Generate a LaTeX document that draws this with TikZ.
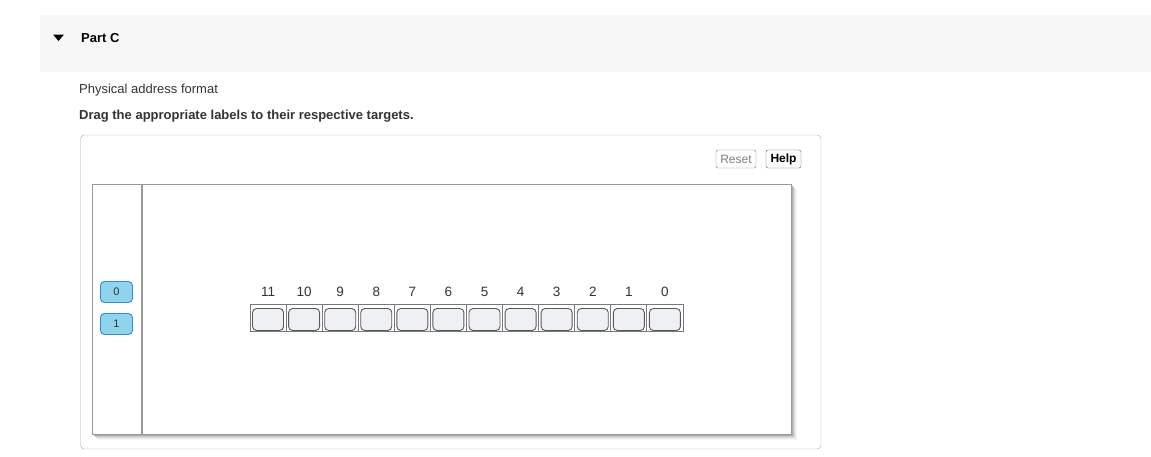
\documentclass[tikz,border=0pt]{standalone}
\usepackage{fontspec}
\setmainfont{Liberation Sans}
\definecolor{headbg}{HTML}{F7F7F7}
\definecolor{boxline}{HTML}{AAAAAA}
\definecolor{panelline}{HTML}{999999}
\definecolor{lblfill}{HTML}{8DD4EC}
\definecolor{lblline}{HTML}{3F86C8}
\definecolor{cellfill}{HTML}{EFF0F1}
\definecolor{cellline}{HTML}{55585E}
\definecolor{txt}{HTML}{333333}
\tikzset{
  plain/.style={anchor=west, inner sep=0pt, text=txt, font=\fontsize{13}{15}\selectfont},
  boldtxt/.style={plain, font=\bfseries\fontsize{13}{15}\selectfont},
  btn/.style={draw=cellline, rounded corners=2pt, inner sep=0pt, minimum height=18pt, font=\fontsize{12}{14}\selectfont},
  lbl/.style={draw=lblline, line width=0.9pt, fill=lblfill, rounded corners=4pt, inner sep=0pt, minimum width=32pt, minimum height=21pt, text=txt, font=\fontsize{11}{13}\selectfont},
  bitnum/.style={inner sep=0pt, text=txt, font=\fontsize{13.5}{15}\selectfont},
  cellout/.style={draw=cellline!80, line width=0.8pt, inner sep=0pt, minimum width=36.08pt, minimum height=27.5pt},
  cellin/.style={draw=cellline, fill=cellfill, rounded corners=4pt, line width=0.9pt, inner sep=0pt, minimum width=31pt, minimum height=22pt}
}
\begin{document}
\begin{tikzpicture}[x=1pt,y=-1pt]
\useasboundingbox (0,0) rectangle (1151,456);
\fill[white] (0,0) rectangle (1151,456);
% header band
\fill[headbg] (40,15) rectangle (1151,72);
\fill[black] (53,34.5) -- (64,34.5) -- (58.5,41) -- cycle;
\node[boldtxt, text=black] (part) at (81,38.5) {Part C};
\node[plain] (phys) at (79,90) {Physical address format};
\node[boldtxt] (drag) at (79,116) {Drag the appropriate labels to their respective targets.};
% outer box
\draw[boxline, rounded corners=4pt] (80.5,135) rectangle (821,449);
% buttons
\node[btn, draw=gray, minimum width=40pt, text=gray] (reset) at (736,159) {Reset};
\node[btn, minimum width=35pt, font=\bfseries\fontsize{12}{14}\selectfont, text=black] (help) at (783.5,159) {Help};
% panel shadow
\foreach \o/\c in {6/4, 5/8, 4/14, 3/22, 2/32, 1/42} {
  \fill[black!\c] (92+\o,184+\o) rectangle (791+\o,434+\o);
}
\fill[white] (92,184) rectangle (791,434);
\draw[panelline, line width=1pt] (92,184) rectangle (791,434);
\draw[panelline, line width=1.3pt] (142,184) -- (142,434);
% draggable labels
\node[lbl] (l0) at (116.5,292) {0};
\node[lbl] (l1) at (116.5,324) {1};
% bit cells
\foreach \j in {0,...,11} {
  \pgfmathtruncatemacro{\b}{11-\j}
  \pgfmathsetmacro{\cx}{250+36.08*\j+18.04}
  \node[bitnum] (n\b) at (\cx,292) {\b};
  \node[cellout] (c\b) at (\cx,318) {};
  \node[cellin] (t\b) at (\cx,319.5) {};
}
\end{tikzpicture}
\end{document}
